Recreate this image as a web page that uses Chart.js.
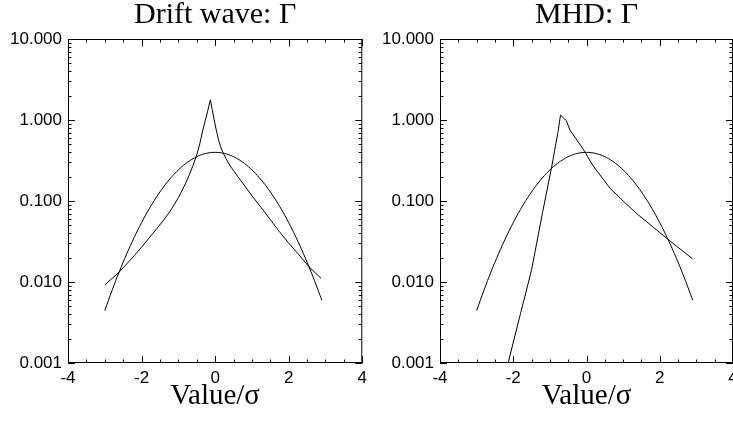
<!DOCTYPE html>
<html>
<head>
<meta charset="utf-8">
<script src="https://cdn.jsdelivr.net/npm/chart.js@4.4.1/dist/chart.umd.min.js"></script>
<style>
  html, body { margin: 0; padding: 0; background: #fff; overflow: hidden; }
  .panel { position: absolute; top: 0; width: 372px; height: 426px; }
</style>
</head>
<body>
<div class="panel" style="left:0"><canvas id="driftChart" width="372" height="426"></canvas></div>
<div class="panel" style="left:372px"><canvas id="mhdChart" width="372" height="426"></canvas></div>
<script>
// axis ticks
const xTicks = [-4, -2, 0, 2, 4];
const yTicks = [0.001, 0.01, 0.1, 1, 10];

// reference gaussian (same in both panels)
const gaussX = [-3.0, -2.8, -2.6, -2.4, -2.2, -2.0, -1.8, -1.6, -1.4, -1.2, -1.0, -0.8, -0.6, -0.4, -0.2,
                0.0, 0.2, 0.4, 0.6, 0.8, 1.0, 1.2, 1.4, 1.6, 1.8, 2.0, 2.2, 2.4, 2.6, 2.8, 2.9];
const gaussY = [0.00443, 0.00792, 0.0136, 0.0224, 0.0355, 0.0540, 0.0790, 0.1109, 0.1497, 0.1942, 0.2420,
                0.2897, 0.3332, 0.3683, 0.3910, 0.3989, 0.3910, 0.3683, 0.3332, 0.2897, 0.2420, 0.1942,
                0.1497, 0.1109, 0.0790, 0.0540, 0.0355, 0.0224, 0.0136, 0.00792, 0.00595];

// drift wave flux pdf
const driftX = [-3.0, -2.8, -2.6, -2.4, -2.2, -2.0, -1.8, -1.6, -1.4, -1.2, -1.0, -0.8, -0.7, -0.6, -0.5,
                -0.42, -0.34, -0.27, -0.2, -0.13, -0.08, -0.03, 0.03, 0.09, 0.15, 0.21, 0.3, 0.4, 0.5,
                0.62, 0.75, 1.0, 1.25, 1.5, 1.75, 2.0, 2.25, 2.57, 2.88];
const driftY = [0.0092, 0.0111, 0.0134, 0.0168, 0.0211, 0.0269, 0.0347, 0.0447, 0.0582, 0.0774, 0.1096,
                0.166, 0.211, 0.275, 0.372, 0.501, 0.733, 0.977, 1.30, 1.77, 1.349, 1.023, 0.753, 0.575,
                0.468, 0.398, 0.331, 0.275, 0.237, 0.1995, 0.166, 0.116, 0.0832, 0.0589, 0.0417, 0.0302,
                0.0224, 0.0151, 0.0111];

// MHD flux pdf
const mhdX = [-2.3, -2.14, -1.8, -1.5, -1.2, -0.95, -0.77, -0.71, -0.63, -0.55, -0.45, -0.25, -0.05, 0.13,
              0.27, 0.64, 1.0, 1.36, 1.8, 2.27, 2.89];
const mhdY = [0.00051, 0.001, 0.0041, 0.0141, 0.072, 0.265, 0.75, 1.15, 1.06, 0.98, 0.75, 0.555, 0.41, 0.295,
              0.24, 0.144, 0.1, 0.0705, 0.0484, 0.0324, 0.0194];

const sansFont = 'Liberation Sans, Arial, sans-serif';
const serifFont = 'Liberation Serif, Times New Roman, serif';

// box round the plot with inward ticks on all four sides
const idlFrame = {
  id: 'idlFrame',
  afterDatasetsDraw(chart) {
    const { ctx, chartArea: a, scales: { x, y } } = chart;
    ctx.save();
    ctx.strokeStyle = '#000';
    ctx.lineWidth = 1;
    ctx.beginPath();
    for (let v = -4; v <= 4.0001; v += 0.5) {
      const px = Math.round(x.getPixelForValue(v)) + 0.5;
      const len = xTicks.includes(v) ? 7 : 3.5;
      ctx.moveTo(px, a.bottom); ctx.lineTo(px, a.bottom - len);
      ctx.moveTo(px, a.top); ctx.lineTo(px, a.top + len);
    }
    for (let d = -3; d <= 1; d++) {
      for (let k = 1; k <= 9; k++) {
        const v = k * Math.pow(10, d);
        if (v > 10.0001) break;
        const py = Math.round(y.getPixelForValue(v)) + 0.5;
        const len = k === 1 ? 7 : 3.5;
        ctx.moveTo(a.left, py); ctx.lineTo(a.left + len, py);
        ctx.moveTo(a.right, py); ctx.lineTo(a.right - len, py);
      }
    }
    ctx.stroke();
    ctx.strokeRect(a.left + 0.5, a.top + 0.5, a.right - a.left - 1, a.bottom - a.top - 1);
    ctx.restore();
  }
};

function toPoints(xs, ys) {
  return xs.map((v, i) => ({ x: v, y: ys[i] }));
}

function makeChart(id, title, curveX, curveY, padRight) {
  return new Chart(document.getElementById(id), {
    type: 'scatter',
    data: {
      datasets: [
        { data: toPoints(gaussX, gaussY), showLine: true, borderColor: '#000', borderWidth: 1,
          pointRadius: 0, tension: 0.4 },
        { data: toPoints(curveX, curveY), showLine: true, borderColor: '#000', borderWidth: 1,
          pointRadius: 0, tension: 0 }
      ]
    },
    options: {
      responsive: false,
      animation: false,
      devicePixelRatio: 1,
      layout: { padding: { left: 0, right: padRight, top: 0, bottom: 0 } },
      plugins: {
        legend: { display: false },
        tooltip: { enabled: false },
        title: {
          display: true, text: title, color: '#000', fullSize: false,
          font: { family: serifFont, size: 30, weight: 'normal', lineHeight: 1 },
          padding: { top: 0.3, bottom: 8.7 }
        }
      },
      scales: {
        x: {
          type: 'linear', min: -4, max: 4,
          afterBuildTicks: s => { s.ticks = xTicks.map(v => ({ value: v })); },
          afterFit: s => { s.height = 63; },
          grid: { display: false, drawTicks: false },
          border: { display: false },
          ticks: { padding: 5, maxRotation: 0, color: '#000', font: { family: sansFont, size: 17 },
                   callback: v => String(v) },
          title: { display: true, text: 'Value/σ', color: '#000',
                   font: { family: serifFont, size: 29, lineHeight: 1 },
                   padding: { top: 0, bottom: 15.3 } }
        },
        y: {
          type: 'logarithmic', min: 0.001, max: 10,
          afterBuildTicks: s => { s.ticks = yTicks.map(v => ({ value: v })); },
          afterFit: s => { s.width = 68; },
          grid: { display: false, drawTicks: false },
          border: { display: false },
          ticks: { padding: 6, color: '#000', font: { family: sansFont, size: 17 },
                   callback: v => Number(v).toFixed(3) }
        }
      }
    },
    plugins: [idlFrame]
  });
}

makeChart('driftChart', 'Drift wave: Γ', driftX, driftY, 9);
makeChart('mhdChart', 'MHD: Γ', mhdX, mhdY, 11);
</script>
</body>
</html>
